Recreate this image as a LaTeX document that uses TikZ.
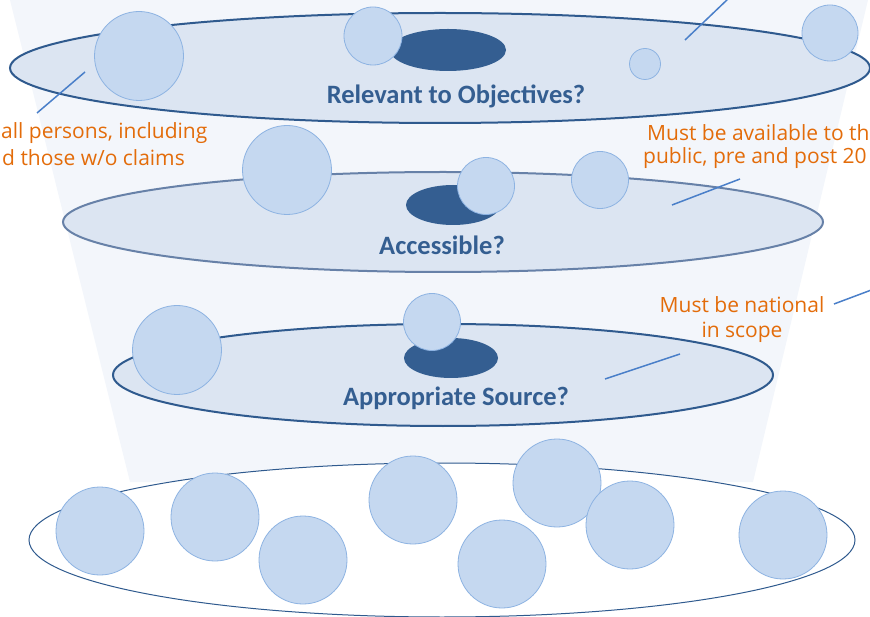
\documentclass[tikz,border=0pt]{standalone}
\usepackage{fontspec}
\setmainfont{Carlito}
\newfontfamily\notefont{Open Sans}
\usetikzlibrary{shapes.geometric}
\definecolor{funnel}{HTML}{F3F6FB}
\definecolor{ringfill}{HTML}{DCE5F2}
\definecolor{ringline}{HTML}{2F5A8E}
\definecolor{ringlinelight}{HTML}{6781A8}
\definecolor{ballfill}{HTML}{C5D8F0}
\definecolor{ballline}{HTML}{8DB3E2}
\definecolor{corec}{HTML}{345E91}
\definecolor{labelc}{HTML}{345E91}
\definecolor{notec}{HTML}{E36C0A}
\definecolor{leader}{HTML}{4A7FC9}
\tikzset{
  ring/.style={ellipse, draw=ringline, line width=2pt, fill=ringfill, inner sep=0pt},
  ball/.style={circle, fill=ballfill, draw=ballline, line width=0.8pt, inner sep=0pt, minimum size=#1},
  corestyle/.style={ellipse, fill=corec, inner sep=0pt},
  question/.style={font=\bfseries\fontsize{26.5}{30}\selectfont, text=labelc, inner sep=0pt},
  note/.style={font=\notefont\fontsize{21}{25}\selectfont, text=notec, align=center, inner sep=0pt},
  leaderline/.style={draw=leader, line width=1.5pt}
}
\begin{document}
\begin{tikzpicture}[x=1pt,y=-1pt]
\useasboundingbox (0,0) rectangle (870,617);
\clip (0,0) rectangle (870,617);
% funnel background
\fill[funnel] (10,0) -- (868,0) -- (753,482) -- (130,482) -- cycle;
% bottom pool
\node[ring, fill=white, line width=1pt, minimum width=826pt, minimum height=154pt] (r0) at (442,540) {};
\node[ball=88pt] (b1) at (100,531) {};
\node[ball=88pt] (b2) at (215,517) {};
\node[ball=88pt] (b3) at (303,560) {};
\node[ball=88pt] (b4) at (413,500) {};
\node[ball=88pt] (b5) at (502,564) {};
\node[ball=88pt] (b6) at (557,483) {};
\node[ball=88pt] (b7) at (630,525) {};
\node[ball=88pt] (b8) at (783,535) {};
% third ring
\node[ring, minimum width=660pt, minimum height=102pt] (r3) at (443,375) {};
\node[corestyle, minimum width=94pt, minimum height=40pt] (d3) at (451,358) {};
\node[ball=89pt] (c31) at (177,350) {};
\node[ball=57pt] (c32) at (432,322) {};
\node[question] (q3) at (456,398) {Appropriate Source?};
% second ring
\node[ring, draw=ringlinelight, minimum width=760pt, minimum height=100pt] (r2) at (443,222) {};
\node[corestyle, minimum width=94pt, minimum height=40pt] (d2) at (453,205) {};
\node[ball=89pt] (c21) at (287,170) {};
\node[ball=57pt] (c22) at (486,186) {};
\node[ball=57pt] (c23) at (600,180) {};
\node[question] (q2) at (442,245) {Accessible?};
% top ring
\node[ring, minimum width=860pt, minimum height=110pt] (r1) at (440,68) {};
\node[corestyle, minimum width=116pt, minimum height=42pt] (d1) at (448,50) {};
\node[ball=89pt] (c11) at (139,56) {};
\node[ball=58pt] (c12) at (373,36) {};
\node[ball=31pt] (c13) at (645,64) {};
\node[ball=56pt] (c14) at (830,33) {};
\node[question] (q1) at (456,96) {Relevant to Objectives?};
% notes
\node[note, anchor=west] (n1a) at (1,133) {all persons, including};
\node[note, anchor=east] (n1b) at (185,158) {d those w/o claims};
\node[note, anchor=west] (n2a) at (647,133) {Must be available to th};
\node[note, anchor=west] (n2b) at (643,158) {public, pre and post 20};
\node[note] (n3) at (742,320) {Must be national\\in scope};
% leader lines
\coordinate (l1a) at (37,113);  \coordinate (l1b) at (85,72);
\coordinate (l2a) at (685,40);  \coordinate (l2b) at (729,-2);
\coordinate (l3a) at (672,205); \coordinate (l3b) at (740,179);
\coordinate (l4a) at (605,379); \coordinate (l4b) at (680,354);
\coordinate (l5a) at (834,304); \coordinate (l5b) at (874,289);
\draw[leaderline] (l1a) -- (l1b);
\draw[leaderline] (l2a) -- (l2b);
\draw[leaderline] (l3a) -- (l3b);
\draw[leaderline] (l4a) -- (l4b);
\draw[leaderline] (l5a) -- (l5b);
\end{tikzpicture}
\end{document}
